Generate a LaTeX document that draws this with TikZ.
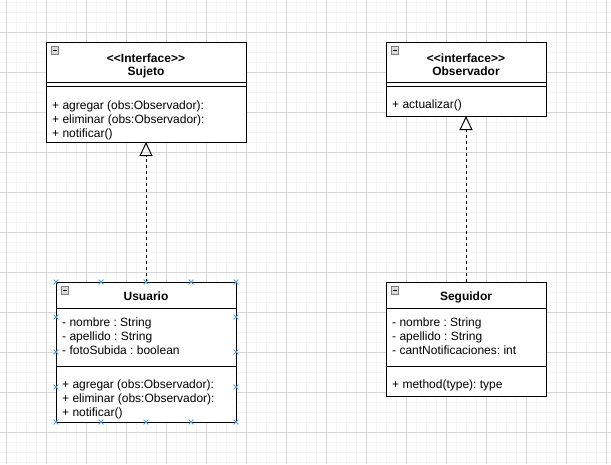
\documentclass[tikz,border=0pt]{standalone}
\usepackage{fontspec}
\setmainfont{Liberation Sans}
\usetikzlibrary{shapes.misc, arrows.meta, positioning}
\definecolor{handlecol}{RGB}{80,160,215}
\tikzstyle{classbox} = [draw=black, line width=1pt, fill=white, anchor=north west, inner sep=0pt, outer sep=0pt]
\tikzstyle{member} = [anchor=base west, inner sep=0pt, font=\fontsize{12}{14}\selectfont]
\tikzstyle{title} = [anchor=base, inner sep=0pt, font=\fontsize{12}{14}\selectfont\bfseries]
\tikzstyle{minbox} = [draw=black!50, fill=black!15, minimum size=7.5pt, inner sep=0pt]
\tikzstyle{handle} = [cross out, draw=handlecol, line width=0.8pt, minimum size=4pt, inner sep=0pt]
\tikzstyle{realize} = [draw, line width=1pt, dash pattern=on 3pt off 3pt, -{Triangle[open, length=14pt, width=13pt]}]
\tikzstyle{minorline} = [draw=black!4, line width=1pt]
\tikzstyle{majorline} = [draw=black!16, line width=1pt]
\tikzstyle{sepline} = [draw=black, line width=1pt]
\frenchspacing

\begin{document}
\begin{tikzpicture}[x=1pt, y=-1pt]
\fill[white] (0,0) rectangle (611,464);
\useasboundingbox (0,0) rectangle (611,464);

% grid
\foreach \x in {6,16,...,606}{ \draw[minorline] (\x,0) -- (\x,464); }
\foreach \y in {2,12,...,462}{ \draw[minorline] (0,\y) -- (611,\y); }
\foreach \x in {6,46,...,606}{ \draw[majorline] (\x,0) -- (\x,464); }
\foreach \y in {32,72,...,432}{ \draw[majorline] (0,\y) -- (611,\y); }

% Sujeto
\node[classbox, minimum width=200pt, minimum height=100pt] (sujeto) at (46,42) {};
\draw[sepline] ([yshift=-40pt]sujeto.north west) -- ([yshift=-40pt]sujeto.north east);
\draw[sepline] ([yshift=-44pt]sujeto.north west) -- ([yshift=-44pt]sujeto.north east);
\node[minbox] (sujetoMin) at ([shift={(8.5pt,-8pt)}]sujeto.north west) {\rule{4pt}{1pt}};
\node[title] (sujetoStereo) at (146,62) {<{}<Interface>{}>};
\node[title] (sujetoName) at (146,75) {Sujeto};
\foreach \t [count=\i] in {+ agregar (obs:Observador):, + eliminar (obs:Observador):, + notificar()}
  \node[member] (sujetoOp\i) at (52,95+14*\i) {\t};

% Observador
\node[classbox, minimum width=160pt, minimum height=74pt] (observador) at (386,42) {};
\draw[sepline] ([yshift=-40pt]observador.north west) -- ([yshift=-40pt]observador.north east);
\draw[sepline] ([yshift=-44pt]observador.north west) -- ([yshift=-44pt]observador.north east);
\node[minbox] (observadorMin) at ([shift={(8.5pt,-8pt)}]observador.north west) {\rule{4pt}{1pt}};
\node[title] (observadorStereo) at (466,62) {<{}<interface>{}>};
\node[title] (observadorName) at (466,75) {Observador};
\node[member] (observadorOp1) at (392,108) {+ actualizar()};

% Usuario
\node[classbox, minimum width=180pt, minimum height=140pt] (usuario) at (56,282) {};
\draw[sepline] ([yshift=-26pt]usuario.north west) -- ([yshift=-26pt]usuario.north east);
\draw[sepline] ([yshift=-84pt]usuario.north west) -- ([yshift=-84pt]usuario.north east);
\node[minbox] (usuarioMin) at ([shift={(8.5pt,-8pt)}]usuario.north west) {\rule{4pt}{1pt}};
\node[title] (usuarioName) at (146,300) {Usuario};
\foreach \t [count=\i] in {- nombre : String, - apellido : String, - fotoSubida : boolean}
  \node[member] (usuarioAttr\i) at (62,312.6+14*\i) {\t};
\foreach \t [count=\i] in {+ agregar (obs:Observador):, + eliminar (obs:Observador):, + notificar()}
  \node[member] (usuarioOp\i) at (62,374.6+14*\i) {\t};

% Seguidor
\node[classbox, minimum width=160pt, minimum height=114pt] (seguidor) at (386,282) {};
\draw[sepline] ([yshift=-26pt]seguidor.north west) -- ([yshift=-26pt]seguidor.north east);
\draw[sepline] ([yshift=-84pt]seguidor.north west) -- ([yshift=-84pt]seguidor.north east);
\node[minbox] (seguidorMin) at ([shift={(8.5pt,-8pt)}]seguidor.north west) {\rule{4pt}{1pt}};
\node[title] (seguidorName) at (466,300) {Seguidor};
\foreach \t [count=\i] in {- nombre : String, - apellido : String, - cantNotificaciones: int}
  \node[member] (seguidorAttr\i) at (392,312.6+14*\i) {\t};
\node[member] (seguidorOp1) at (392,388.6) {+ method(type): type};

% realizations
\draw[realize] (usuario.north) -- (sujeto.south);
\draw[realize] (seguidor.north) -- (observador.south);

% selection handles
\foreach \x [count=\i] in {56,101,146,191,236}{
  \node[handle] (hTop\i) at (\x,282) {};
  \node[handle] (hBot\i) at (\x,422) {};
}
\foreach \y [count=\i] in {317,352,387}{
  \node[handle] (hLeft\i) at (56,\y) {};
  \node[handle] (hRight\i) at (236,\y) {};
}

\end{tikzpicture}
\end{document}
